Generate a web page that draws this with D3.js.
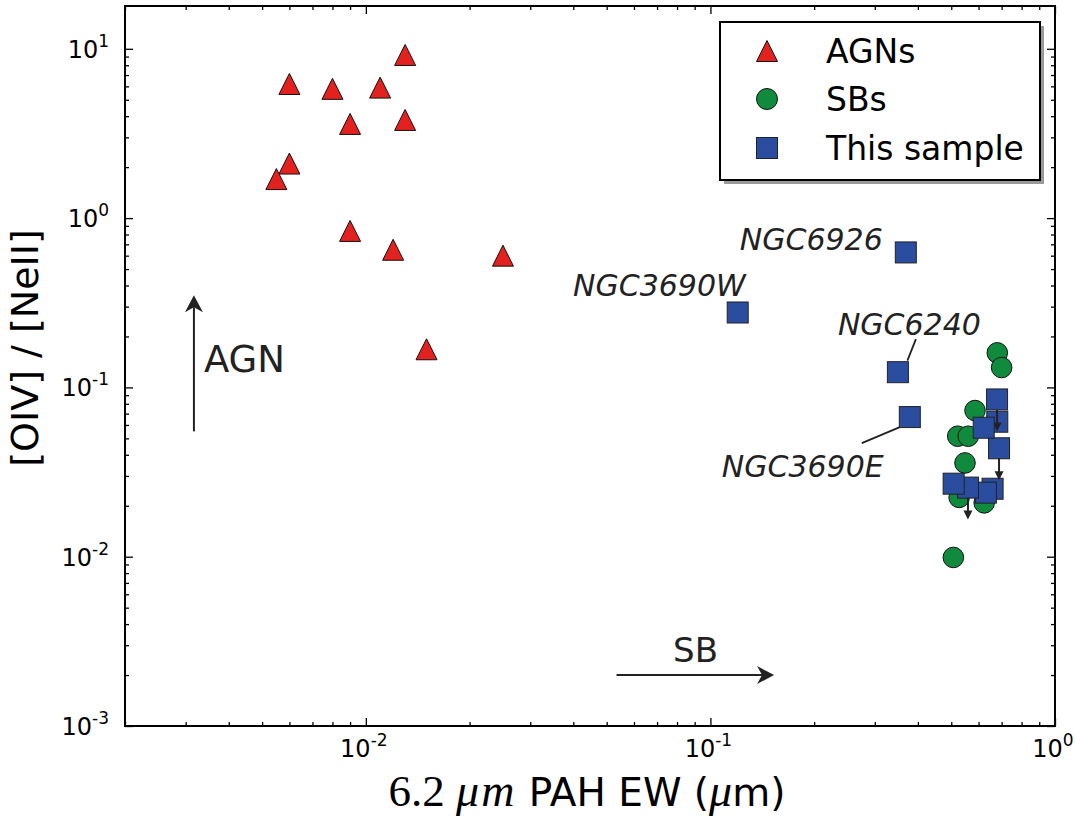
<!DOCTYPE html>
<html>
<head>
<meta charset="utf-8">
<script src="https://cdn.jsdelivr.net/npm/d3@7"></script>
<style>
body { margin: 0; background: #fff; }
text { font-family: "DejaVu Sans", sans-serif; }
</style>
</head>
<body>
<script>
// AGNs (triangles)
const agnX = [0.013, 0.006, 0.008, 0.011, 0.009, 0.013, 0.006, 0.0055, 0.009, 0.012, 0.025, 0.015];
const agnY = [9.2, 6.2, 5.8, 5.9, 3.6, 3.8, 2.1, 1.7, 0.84, 0.65, 0.60, 0.168];
// SBs (circles)
const sbX = [0.68, 0.70, 0.586, 0.522, 0.56, 0.548, 0.527, 0.623, 0.507];
const sbY = [0.160, 0.131, 0.073, 0.0515, 0.0515, 0.0358, 0.0224, 0.0208, 0.0099];
// This sample (squares), drawn in this order
const sampleX = [0.369, 0.12, 0.35, 0.379, 0.659, 0.630, 0.559, 0.508, 0.688, 0.680, 0.679, 0.621];
const sampleY = [0.627, 0.277, 0.123, 0.0668, 0.0252, 0.0239, 0.0256, 0.027, 0.0437, 0.0627, 0.0849, 0.0578];
const sampleUpper = [false, false, false, false, false, false, true, false, true, false, true, false];
const sampleNames = ["NGC6926", "NGC3690W", "NGC6240", "NGC3690E", "", "", "", "", "", "", "", ""];

const xMajor = [0.01, 0.1, 1];
const yMajor = [0.001, 0.01, 0.1, 1, 10];
const xExp = ["-2", "-1", "0"];
const yExp = ["-3", "-2", "-1", "0", "1"];
const legendNames = ["AGNs", "SBs", "This sample"];

const W = 1076, H = 817;
const pLeft = 125, pRight = 1055, pTop = 6, pBottom = 726;
const red = "#e3211f", green = "#108a3c", blue = "#2a4d9f", ink = "#222";

const svg = d3.select("body").append("svg")
  .attr("width", W).attr("height", H);

const x = d3.scaleLog().domain([0.002, 1]).range([pLeft, pRight]);
const y = d3.scaleLog().domain([0.001, 17.9]).range([pBottom, pTop]);

// minor tick values
const xMinor = [];
[0.001, 0.01, 0.1].forEach(function(d) { for (let k = 2; k <= 9; k++) { const v = d * k; if (v >= 0.002 && v < 1) xMinor.push(v); } });
const yMinor = [];
[0.001, 0.01, 0.1, 1, 10].forEach(function(d) { for (let k = 2; k <= 9; k++) { const v = d * k; if (v < 17.9) yMinor.push(v); } });

function drawAxis(axis, tr) {
  const g = svg.append("g").attr("transform", tr).call(axis);
  g.select(".domain").remove();
  g.selectAll("text").remove();
  g.selectAll("line").attr("stroke", "#000").attr("stroke-width", 1.3);
}
drawAxis(d3.axisBottom(x).tickValues(xMajor).tickSize(-8), "translate(0," + pBottom + ")");
drawAxis(d3.axisBottom(x).tickValues(xMinor).tickSize(-4), "translate(0," + pBottom + ")");
drawAxis(d3.axisTop(x).tickValues(xMajor).tickSize(-8), "translate(0," + pTop + ")");
drawAxis(d3.axisTop(x).tickValues(xMinor).tickSize(-4), "translate(0," + pTop + ")");
drawAxis(d3.axisLeft(y).tickValues(yMajor).tickSize(-8), "translate(" + pLeft + ",0)");
drawAxis(d3.axisLeft(y).tickValues(yMinor).tickSize(-4), "translate(" + pLeft + ",0)");
drawAxis(d3.axisRight(y).tickValues(yMajor).tickSize(-8), "translate(" + pRight + ",0)");
drawAxis(d3.axisRight(y).tickValues(yMinor).tickSize(-4), "translate(" + pRight + ",0)");

// tick labels 10^n
function powLabel(t, exp) {
  t.append("tspan").text("10");
  t.append("tspan").attr("dy", -11).attr("font-size", 17).text(exp);
}
xMajor.forEach(function(v, i) {
  const t = svg.append("text").attr("x", x(v) - 2).attr("y", pBottom + 31)
    .attr("text-anchor", "middle").attr("font-size", 24);
  powLabel(t, xExp[i]);
});
yMajor.forEach(function(v, i) {
  const t = svg.append("text").attr("x", 109).attr("y", y(v) + 9)
    .attr("text-anchor", "end").attr("font-size", 24);
  powLabel(t, yExp[i]);
});

// frame
svg.append("rect").attr("x", pLeft).attr("y", pTop)
  .attr("width", pRight - pLeft).attr("height", pBottom - pTop)
  .attr("fill", "none").attr("stroke", "#000").attr("stroke-width", 2);

// axis titles
svg.append("text").attr("transform", "translate(38,348) rotate(-90)")
  .attr("text-anchor", "middle").attr("font-size", 38).text("[OIV] / [NeII]");
const xt = svg.append("text").attr("x", 587).attr("y", 806)
  .attr("text-anchor", "middle").attr("font-size", 39);
xt.append("tspan").attr("font-family", "Liberation Serif").attr("font-size", 45).text("6.2 ");
xt.append("tspan").attr("font-family", "Liberation Serif").attr("font-style", "italic").attr("font-size", 46).attr("letter-spacing", 2).text("\u03bcm");
xt.append("tspan").text(" PAH EW (");
xt.append("tspan").attr("font-family", "Liberation Serif").attr("font-style", "italic").attr("font-size", 46).text("\u03bc");
xt.append("tspan").text("m)");

// marker shapes
function triPath(s) { return "M0," + (-s / 2) + "L" + (s / 2) + "," + (s / 2) + "L" + (-s / 2) + "," + (s / 2) + "Z"; }

const plot = svg.append("g");

// AGNs
plot.selectAll(".agn").data(agnX).enter().append("path")
  .attr("class", "agn")
  .attr("d", triPath(21))
  .attr("transform", function(d, i) { return "translate(" + x(d) + "," + y(agnY[i]) + ")"; })
  .attr("fill", red).attr("stroke", "#111").attr("stroke-width", 1);

// SBs
plot.selectAll(".sb").data(sbX).enter().append("circle")
  .attr("class", "sb")
  .attr("cx", function(d) { return x(d); })
  .attr("cy", function(d, i) { return y(sbY[i]); })
  .attr("r", 10.3)
  .attr("fill", green).attr("stroke", "#111").attr("stroke-width", 1);

// This sample: upper-limit arrow then square, point by point
const arrowLen = 32;
sampleX.forEach(function(d, i) {
  const cx = x(d), cy = y(sampleY[i]);
  if (sampleUpper[i]) {
    plot.append("line").attr("x1", cx).attr("x2", cx).attr("y1", cy).attr("y2", cy + arrowLen - 6)
      .attr("stroke", ink).attr("stroke-width", 2);
    plot.append("path")
      .attr("d", "M" + (cx - 4.5) + "," + (cy + arrowLen - 9) + "L" + (cx + 4.5) + "," + (cy + arrowLen - 9) + "L" + cx + "," + (cy + arrowLen) + "Z")
      .attr("fill", ink);
  }
  plot.append("rect").attr("x", cx - 10.5).attr("y", cy - 10.5)
    .attr("width", 21).attr("height", 21)
    .attr("fill", blue).attr("stroke", "#222").attr("stroke-width", 1);
});

// name labels (offsets in px from the point)
const labelPos = [
  { dx: -23, dy: -2, anchor: "end" },
  { dx: 8, dy: -16, anchor: "end" },
  { dx: -60, dy: -37, anchor: "start", line: [9.5, -11.5, 18, -33] },
  { dx: -188, dy: 60, anchor: "start", line: [-10, 10, -48, 26] }
];
labelPos.forEach(function(p, i) {
  const cx = x(sampleX[i]), cy = y(sampleY[i]);
  if (p.line) {
    svg.append("line").attr("x1", cx + p.line[0]).attr("y1", cy + p.line[1])
      .attr("x2", cx + p.line[2]).attr("y2", cy + p.line[3])
      .attr("stroke", ink).attr("stroke-width", 1.8);
  }
  svg.append("text").attr("x", cx + p.dx).attr("y", cy + p.dy)
    .attr("text-anchor", p.anchor).attr("font-size", 30).attr("font-style", "italic")
    .attr("fill", ink).text(sampleNames[i]);
});

// direction arrows (data coordinates)
const agnArrow = [0.00317, 0.055, 0.35];
const sbArrow = [0.0534, 0.153, 0.002];
function headPath(tx, ty, ang) {
  const pts = [[0, 0], [-17, -9], [-12, 0], [-17, 9]].map(function(p) {
    const c = Math.cos(ang), s = Math.sin(ang);
    return [tx + p[0] * c - p[1] * s, ty + p[0] * s + p[1] * c];
  });
  return "M" + pts.map(function(p) { return p.join(","); }).join("L") + "Z";
}
const ax = x(agnArrow[0]);
svg.append("line").attr("x1", ax).attr("x2", ax).attr("y1", y(agnArrow[1])).attr("y2", y(agnArrow[2]) + 12)
  .attr("stroke", ink).attr("stroke-width", 2);
svg.append("path").attr("d", headPath(ax, y(agnArrow[2]), -Math.PI / 2)).attr("fill", ink);
svg.append("text").attr("x", ax + 10).attr("y", y(agnArrow[2]) + 77)
  .attr("font-size", 37).attr("fill", ink).text("AGN");

const sy = y(sbArrow[2]);
svg.append("line").attr("x1", x(sbArrow[0])).attr("x2", x(sbArrow[1]) - 12).attr("y1", sy).attr("y2", sy)
  .attr("stroke", ink).attr("stroke-width", 2);
svg.append("path").attr("d", headPath(x(sbArrow[1]), sy, 0)).attr("fill", ink);
svg.append("text").attr("x", x(sbArrow[0]) + 79).attr("y", sy - 13)
  .attr("text-anchor", "middle").attr("font-size", 34).attr("fill", ink).text("SB");

// legend
const lg = svg.append("g");
lg.append("rect").attr("x", 724).attr("y", 26).attr("width", 320).attr("height", 158).attr("fill", "#9a9a9a");
lg.append("rect").attr("x", 720).attr("y", 22).attr("width", 320).attr("height", 158)
  .attr("fill", "#fff").attr("stroke", "#000").attr("stroke-width", 2);
const rowY = [51, 99, 148];
lg.append("path").attr("d", triPath(21)).attr("transform", "translate(767," + rowY[0] + ")")
  .attr("fill", red).attr("stroke", "#111").attr("stroke-width", 1);
lg.append("circle").attr("cx", 767).attr("cy", rowY[1]).attr("r", 10.5)
  .attr("fill", green).attr("stroke", "#111").attr("stroke-width", 1);
lg.append("rect").attr("x", 756.5).attr("y", rowY[2] - 10.5).attr("width", 21).attr("height", 21)
  .attr("fill", blue).attr("stroke", "#222").attr("stroke-width", 1);
legendNames.forEach(function(n, i) {
  lg.append("text").attr("x", 826).attr("y", rowY[i] + 11.5).attr("font-size", 33).text(n);
});
</script>
</body>
</html>
